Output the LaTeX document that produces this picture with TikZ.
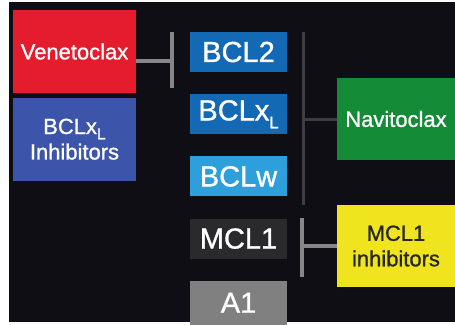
\documentclass[tikz,border=0pt]{standalone}
\usepackage{fontspec}
\setmainfont{Liberation Sans}[FakeBold=1]
\usepackage{xcolor}
\usetikzlibrary{positioning}
\definecolor{bgcolor}{RGB}{14,14,20}
\definecolor{venered}{RGB}{228,28,46}
\definecolor{inhblue}{RGB}{60,85,170}
\definecolor{bclblue}{RGB}{20,105,180}
\definecolor{bclwblue}{RGB}{45,160,220}
\definecolor{mcldark}{RGB}{42,42,44}
\definecolor{aonegray}{RGB}{128,128,128}
\definecolor{navigreen}{RGB}{20,140,55}
\definecolor{mclyellow}{RGB}{240,228,30}
\definecolor{barlight}{RGB}{135,135,138}
\definecolor{bardark}{RGB}{62,62,66}
\newcommand{\lsub}[2]{\raisebox{-#1}{\fontsize{#2}{#2}\selectfont L}}
\tikzset{
  drug/.style={minimum width=2.46cm, minimum height=1.66cm, inner sep=0pt, align=center, text=white, font=\fontsize{12.5}{14.5}\selectfont},
  prot/.style={minimum width=1.94cm, minimum height=0.8cm, inner sep=0pt, text=white, font=\fontsize{16.5}{18}\selectfont},
  bar/.style={line width=0.07cm, draw=barlight},
  darkbar/.style={line width=0.06cm, draw=bardark},
}

\begin{document}
\begin{tikzpicture}[x=0.02cm, y=-0.02cm, node distance=0.43cm]
\fill[white] (0,0) rectangle (455,322);
\fill[bgcolor] (9,2) rectangle (455,322);
% drugs on the left
\node[drug, fill=venered] (vene) at (74.5,51.5) {Venetoclax};
\node[drug, fill=inhblue, below=0.08cm of vene] (bclinh) {BCLx\lsub{3pt}{9}\\Inhibitors};
% protein column
\node[prot, fill=bclblue] (bcl2) at (238.5,52) {BCL2};
\node[prot, fill=bclblue, below=of bcl2] (bclxl) {BCLx\lsub{4.5pt}{9.5}};
\node[prot, fill=bclwblue, below=of bclxl] (bclw) {BCLw};
\node[prot, fill=mcldark, below=of bclw] (mcl1) {MCL1};
\node[prot, fill=aonegray, below=of mcl1, minimum height=0.88cm] (a1) {A1};
% drugs on the right
\node[drug, fill=navigreen, minimum width=2.36cm, minimum height=1.64cm] (navi) at (396,119) {Navitoclax};
\node[drug, fill=mclyellow, text=black!85, minimum width=2.36cm, minimum height=1.64cm] (mclinh) at (396,246) {MCL1\\inhibitors};
% inhibition bars
\coordinate (vtop) at (172,32);
\coordinate (vbot) at (172,88);
\coordinate (vmid) at (172,61);
\draw[bar] (vene.east |- vmid) -- (vmid);
\draw[bar] (vtop) -- (vbot);
\coordinate (ntop) at (303,32);
\coordinate (nbot) at (303,205);
\draw[darkbar] (ntop) -- (nbot);
\draw[darkbar] (navi.west) -- (navi.west -| ntop);
\coordinate (mtop) at (302,218);
\coordinate (mbot) at (302,277);
\draw[bar] (mtop) -- (mbot);
\draw[bar] (mclinh.west) -- (mclinh.west -| mtop);
\end{tikzpicture}
\end{document}
